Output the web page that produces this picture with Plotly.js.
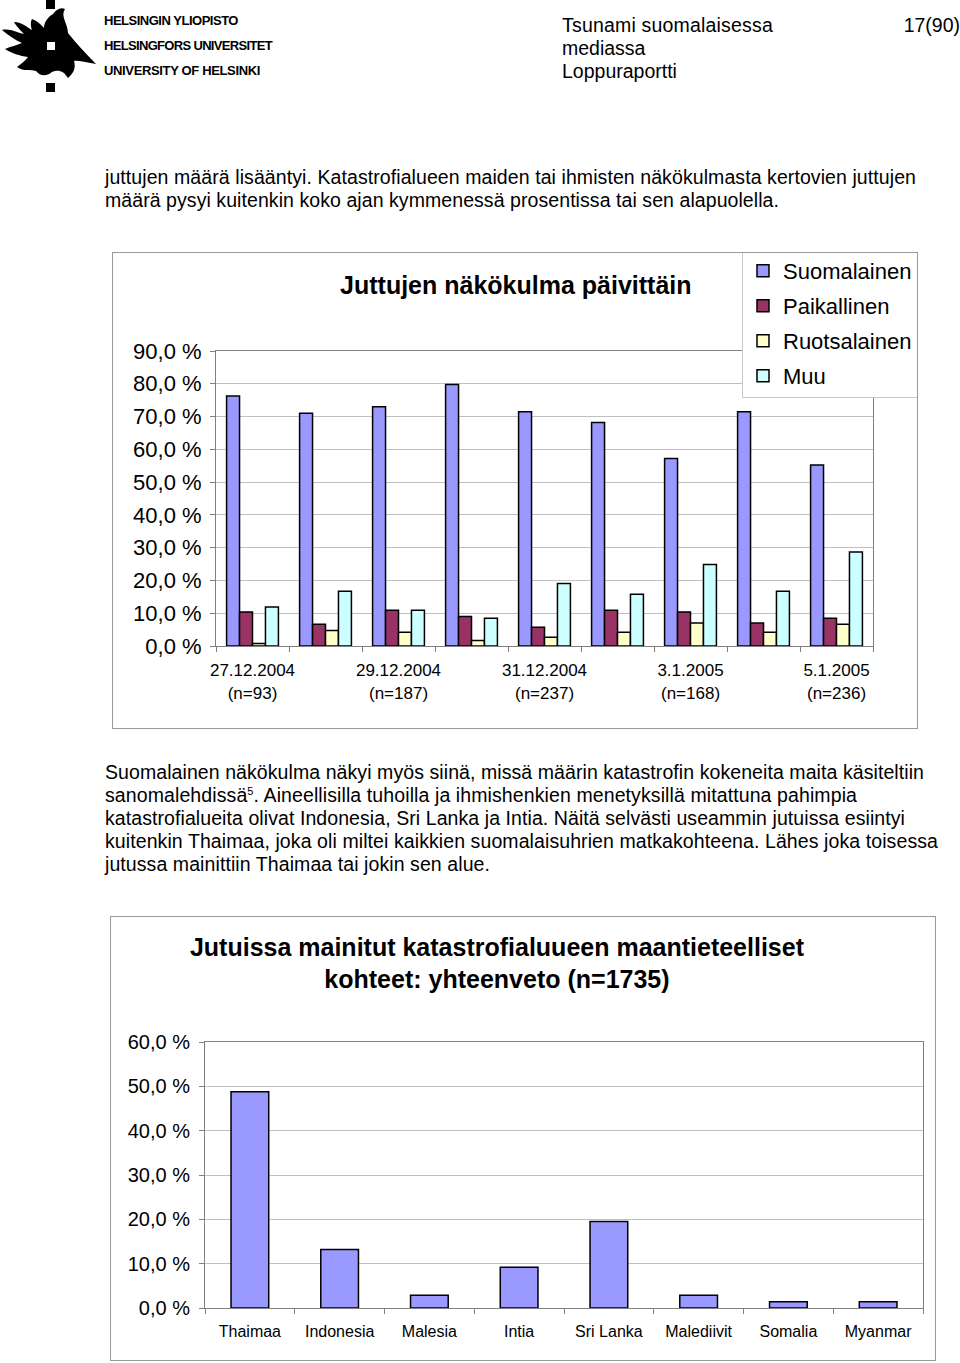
<!DOCTYPE html>
<html>
<head>
<meta charset="utf-8">
<script src="https://cdn.plot.ly/plotly-3.0.1.min.js"></script>
<style>
  html, body { margin:0; padding:0; background:#fff; }
  body { width:960px; height:1363px; position:relative; overflow:hidden;
         font-family:"Liberation Sans", Arial, Helvetica, sans-serif; color:#000; }
  .ln { position:absolute; white-space:nowrap; font-size:19.5px; line-height:23px; }
  .logo { position:absolute; white-space:nowrap; font-size:13px; font-weight:bold; line-height:16px; }
  .frame { position:absolute; box-sizing:border-box; border:1px solid #9a9a9a; background:#fff; }
  sup { font-size:11px; line-height:0; vertical-align:7px; }
</style>
</head>
<body>

<!-- logo -->
<svg style="position:absolute;left:0;top:0" width="100" height="95" viewBox="0 0 100 95">
  <rect x="46" y="0" width="9" height="9" fill="#000"/>
  <rect x="46" y="83" width="9" height="9" fill="#000"/>
  <path fill="#000" d="M2,30 C10,28 18,33 24,34 C18,28 15,24 14,22 C22,22 28,28 32,30 C30,24 31,21 32,19 C38,21 42,26 44,28 C44,22 48,17 53,14 C56,10 60,7 65,9 C60,16 68,24 68,33 C76,43 86,54 96,64 C87,63 80,60 74,61 C76,67 74,73 68,78 C64,71 58,69 52,72 C46,77 40,76 36,71 C30,69 24,72 17,67 C22,63 26,60 28,57 C20,56 11,53 5,49 C12,46 18,45 22,43 C15,40 8,35 2,30 Z"/>
  <rect x="47" y="42" width="8" height="8" fill="#fff"/>
</svg>
<div class="logo fit" data-w="134" style="left:104px;top:13px">HELSINGIN YLIOPISTO</div>
<div class="logo fit" data-w="168" style="left:104px;top:38px">HELSINGFORS UNIVERSITET</div>
<div class="logo fit" data-w="156" style="left:104px;top:63px">UNIVERSITY OF HELSINKI</div>

<!-- header -->
<div class="ln fit" data-w="211" style="left:562px;top:13.5px">Tsunami suomalaisessa</div>
<div class="ln" style="left:562px;top:36.5px">mediassa</div>
<div class="ln" style="left:562px;top:59.5px">Loppuraportti</div>
<div class="ln" style="right:0px;top:13.5px">17(90)</div>

<!-- paragraph 1 -->
<div class="ln fit" data-w="811" style="left:105px;top:165.5px">juttujen määrä lisääntyi. Katastrofialueen maiden tai ihmisten näkökulmasta kertovien juttujen</div>
<div class="ln fit" data-w="674" style="left:105px;top:188.5px">määrä pysyi kuitenkin koko ajan kymmenessä prosentissa tai sen alapuolella.</div>

<!-- chart 1 -->
<div class="frame" style="left:112px;top:252px;width:806px;height:477px;">
  <div id="chart1" style="width:804px;height:475px;"></div>
</div>

<!-- paragraph 2 -->
<div class="ln fit" data-w="819" style="left:105px;top:760.5px">Suomalainen näkökulma näkyi myös siinä, missä määrin katastrofin kokeneita maita käsiteltiin</div>
<div class="ln fit" data-w="752" style="left:105px;top:783.5px">sanomalehdissä<sup>5</sup>. Aineellisilla tuhoilla ja ihmishenkien menetyksillä mitattuna pahimpia</div>
<div class="ln fit" data-w="800" style="left:105px;top:806.5px">katastrofialueita olivat Indonesia, Sri Lanka ja Intia. Näitä selvästi useammin jutuissa esiintyi</div>
<div class="ln fit" data-w="833" style="left:105px;top:829.5px">kuitenkin Thaimaa, joka oli miltei kaikkien suomalaisuhrien matkakohteena. Lähes joka toisessa</div>
<div class="ln fit" data-w="385" style="left:105px;top:852.5px">jutussa mainittiin Thaimaa tai jokin sen alue.</div>

<!-- chart 2 -->
<div class="frame" style="left:110px;top:916px;width:826px;height:445px;">
  <div id="chart2" style="width:824px;height:443px;"></div>
</div>

<script>
// ---------- data: chart 1 ----------
const dates = ['27.12.2004','28.12.2004','29.12.2004','30.12.2004','31.12.2004','2.1.2005','3.1.2005','4.1.2005','5.1.2005'];
const nLabel = [93, null, 187, null, 237, null, 168, null, 236];
const suomalainen  = [76.3, 71.0, 73.0, 79.8, 71.5, 68.2, 57.2, 71.5, 55.2];
const paikallinen  = [10.4,  6.6, 10.9,  9.0,  5.7, 10.9, 10.4,  7.0,  8.5];
const ruotsalainen = [ 0.8,  4.7,  4.2,  1.7,  2.7,  4.2,  7.0,  4.2,  6.6];
const muu          = [11.9, 16.7, 10.9,  8.5, 19.1, 15.8, 24.9, 16.7, 28.7];
const seriesNames  = ['Suomalainen','Paikallinen','Ruotsalainen','Muu'];
const yTicks1 = [0, 10, 20, 30, 40, 50, 60, 70, 80, 90];
const title1 = 'Juttujen näkökulma päivittäin';

// ---------- data: chart 2 ----------
const countries = ['Thaimaa','Indonesia','Malesia','Intia','Sri Lanka','Malediivit','Somalia','Myanmar'];
const countryShare = [48.8, 13.2, 2.9, 9.2, 19.5, 2.9, 1.4, 1.4];
const yTicks2 = [0, 10, 20, 30, 40, 50, 60];
const title2 = 'Jutuissa mainitut katastrofialuueen maantieteelliset<br>kohteet: yhteenveto (n=1735)';

// ---------- fit text lines ----------
document.querySelectorAll('.fit').forEach(el => {
  const target = parseFloat(el.dataset.w);
  const w = el.getBoundingClientRect().width;
  const n = el.textContent.length;
  el.style.letterSpacing = ((target - w) / n) + 'px';
});

const pctLabel = v => v.toFixed(1).replace('.', ',') + ' %';

const FONT = '"Liberation Sans", Arial, sans-serif';
const colors = ['#9999ff', '#993366', '#ffffcc', '#ccffff'];
const seriesVals = [suomalainen, paikallinen, ruotsalainen, muu];

const traces1 = seriesNames.map((name, k) => ({
  type: 'bar', name: name, x: dates, y: seriesVals[k],
  legendgroup: 'g' + k,
  marker: { color: colors[k], line: { color: '#000', width: 1.5 } },
  hoverinfo: 'skip'
}));

const tickText1 = dates.map((d, i) => nLabel[i] !== null ? d + '<br>(n=' + nLabel[i] + ')' : '');

const layout1 = {
  width: 804, height: 475,
  margin: { l: 103, r: 44, t: 98, b: 82, autoexpand: false },
  paper_bgcolor: '#fff', plot_bgcolor: '#fff',
  font: { family: FONT, color: '#000' },
  barmode: 'group', bargap: 0.29, bargroupgap: 0,
  title: { text: '<b>' + title1 + '</b>', font: { size: 25, family: FONT, color: '#000' },
           x: 0.501, xref: 'container', xanchor: 'center', y: 0.9326, yref: 'container', yanchor: 'middle' },
  showlegend: true,
  legend: { x: 0.8006, xanchor: 'left', y: 1.3456, yanchor: 'top', traceorder: 'grouped',
            bgcolor: '#fff', bordercolor: '#c8c8c8', borderwidth: 1,
            font: { size: 22, family: FONT, color: '#000' }, tracegroupgap: 3.4 },
  xaxis: {
    type: 'category', tickvals: dates, ticktext: tickText1, tickson: 'boundaries',
    ticks: 'outside', ticklen: 5, tickcolor: '#808080', tickangle: 0,
    showline: true, linecolor: '#808080', linewidth: 1, mirror: true,
    showgrid: false, tickfont: { size: 17, family: FONT, color: '#000' }, ticklabelstandoff: 9,
    fixedrange: true
  },
  yaxis: {
    range: [0, 90], tickvals: yTicks1, ticktext: yTicks1.map(pctLabel),
    ticks: 'outside', ticklen: 5, tickcolor: '#808080',
    showline: true, linecolor: '#808080', linewidth: 1, mirror: true,
    showgrid: true, gridcolor: '#c0c0c0', gridwidth: 1, zeroline: false,
    tickfont: { size: 22, family: FONT, color: '#000' }, ticklabelstandoff: 4,
    fixedrange: true
  }
};

Plotly.newPlot('chart1', traces1, layout1, { staticPlot: true, displayModeBar: false });

const traces2 = [{
  type: 'bar', x: countries, y: countryShare,
  marker: { color: '#9999ff', line: { color: '#000', width: 1.5 } },
  hoverinfo: 'skip', showlegend: false
}];

const layout2 = {
  width: 824, height: 443,
  margin: { l: 94, r: 12, t: 125, b: 52, autoexpand: false },
  paper_bgcolor: '#fff', plot_bgcolor: '#fff',
  font: { family: FONT, color: '#000' },
  bargap: 0.58,
  title: { text: '<b>' + title2 + '</b>', font: { size: 25, family: FONT, color: '#000' },
           x: 0.4684, xref: 'container', xanchor: 'center', y: 0.913, yref: 'container', yanchor: 'middle' },
  showlegend: false,
  xaxis: {
    type: 'category', tickson: 'boundaries',
    ticks: 'outside', ticklen: 5, tickcolor: '#808080', tickangle: 0,
    showline: true, linecolor: '#808080', linewidth: 1, mirror: true,
    showgrid: false, tickfont: { size: 16, family: FONT, color: '#000' }, ticklabelstandoff: 9,
    fixedrange: true
  },
  yaxis: {
    range: [0, 60], tickvals: yTicks2, ticktext: yTicks2.map(pctLabel),
    ticks: 'outside', ticklen: 5, tickcolor: '#808080',
    showline: true, linecolor: '#808080', linewidth: 1, mirror: true,
    showgrid: true, gridcolor: '#c0c0c0', gridwidth: 1, zeroline: false,
    tickfont: { size: 20, family: FONT, color: '#000' }, ticklabelstandoff: 5,
    fixedrange: true
  }
};

Plotly.newPlot('chart2', traces2, layout2, { staticPlot: true, displayModeBar: false });
</script>
</body>
</html>
